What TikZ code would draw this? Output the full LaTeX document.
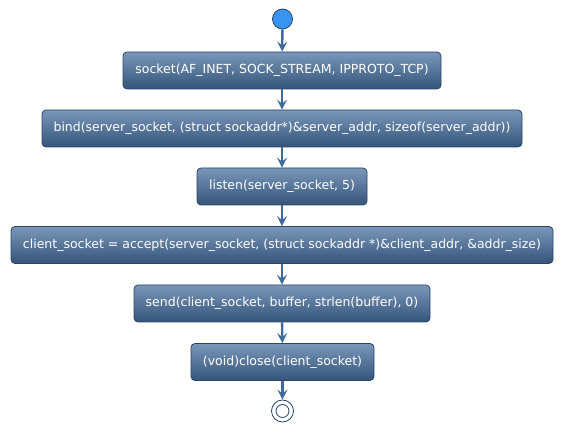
\documentclass[tikz,border=0pt]{standalone}
\usepackage{fontspec}
\setmainfont{DejaVu Sans}
\usetikzlibrary{arrows.meta}
\definecolor{topc}{HTML}{7A97B9}
\definecolor{botc}{HTML}{34547A}
\definecolor{edgec}{HTML}{2B4565}
\definecolor{arrc}{HTML}{3F6A9E}
\definecolor{startc}{HTML}{3794F0}
\tikzset{
  act/.style={draw=edgec, line width=0.8pt, rounded corners=4pt, top color=topc, bottom color=botc,
    text=white, font=\fontsize{12.5}{14}\selectfont, minimum height=37pt, inner sep=0pt},
  flow/.style={draw=arrc, line width=2.4pt, -{Stealth[length=10pt,width=10pt,inset=4pt]}},
}
\begin{document}
\begin{tikzpicture}[x=1pt,y=-1pt]
\useasboundingbox (0,0) rectangle (563,435);
\node[circle, fill=startc, draw=edgec, line width=0.8pt, minimum size=20pt, inner sep=0pt] (start) at (282.5,19) {};
\node[act, minimum width=318pt] (b1) at (282,70.5) {socket(AF\_INET, SOCK\_STREAM, IPPROTO\_TCP)};
\node[act, minimum width=480pt] (b2) at (282,128.5) {bind(server\_socket, (struct sockaddr*)\&server\_addr, sizeof(server\_addr))};
\node[act, minimum width=170pt] (b3) at (282,186.5) {listen(server\_socket, 5)};
\node[act, minimum width=542pt] (b4) at (282,245) {client\_socket = accept(server\_socket, (struct sockaddr *)\&client\_addr, \&addr\_size)};
\node[act, minimum width=296pt] (b5) at (282,303.5) {send(client\_socket, buffer, strlen(buffer), 0)};
\node[act, minimum width=183pt] (b6) at (282.5,362) {(void)close(client\_socket)};
\node[circle, draw=edgec, line width=0.8pt, fill=white, minimum size=22pt, inner sep=0pt] (stop) at (282.5,411) {};
\node[circle, draw=edgec, line width=0.8pt, minimum size=13pt, inner sep=0pt] (stopin) at (stop.center) {};
\draw[flow] (start) -- (b1);
\draw[flow] (b1) -- (b2);
\draw[flow] (b2) -- (b3);
\draw[flow] (b3) -- (b4);
\draw[flow] (b4) -- (b5);
\draw[flow] (b5) -- (b6);
\draw[flow] (b6) -- (stop);
\end{tikzpicture}
\end{document}
